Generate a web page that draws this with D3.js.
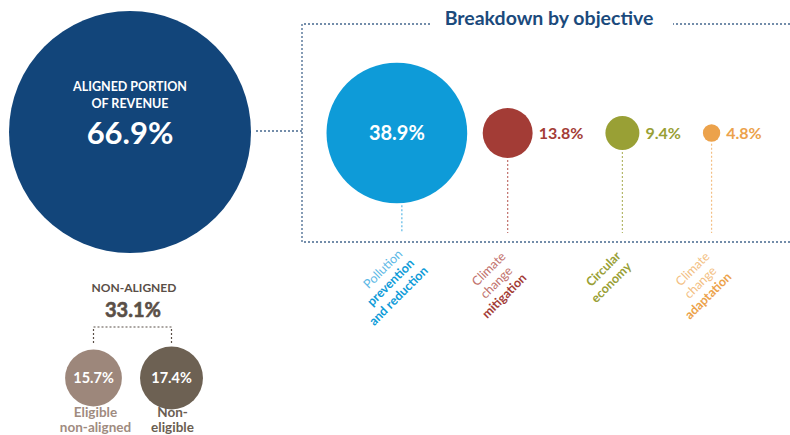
<!DOCTYPE html>
<html>
<head>
<meta charset="utf-8">
<script src="https://cdn.jsdelivr.net/npm/d3@7"></script>
<style>
  body { margin: 0; background: #fff; }
  svg { font-family: Lato, "Open Sans", sans-serif; }
</style>
</head>
<body>
<svg id="chart" width="790" height="435"></svg>
<script>
// data
const alignedLabel = ["ALIGNED PORTION", "OF REVENUE"];
const alignedValue = 66.9;
const nonAlignedLabel = "NON-ALIGNED";
const nonAlignedValue = 33.1;
const nonAlignedCats = ["Eligible\nnon-aligned", "Non-\neligible"];
const nonAlignedValues = [15.7, 17.4];
const objectives = ["Pollution prevention and reduction", "Climate change mitigation", "Circular economy", "Climate change adaptation"];
const objectiveLight = ["Pollution", "Climate\nchange", "", "Climate\nchange"];
const objectiveBold = ["prevention\nand reduction", "mitigation", "Circular\neconomy", "adaptation"];
const objectiveValues = [38.9, 13.8, 9.4, 4.8];
const objectiveColors = ["#0e9bd8", "#a33c36", "#99a035", "#eca24b"];
const objectiveLightColors = ["#5cb9e6", "#c1716c", "#b4b86a", "#f3bf84"];
const nonAlignedColors = ["#9d877b", "#6d6153"];
const nonAlignedTextColors = ["#a08b80", "#6b5e51"];

const svg = d3.select("#chart");
const navy = "#12457a";
const dotted = "#46688f";
const fmt = v => d3.format(".1f")(v) + "%";

// radius is proportional to value
const r = d3.scaleLinear().domain([0, alignedValue]).range([0, 121]);

// ---- aligned circle
const big = { x: 130, y: 132 };
svg.append("circle")
    .attr("cx", big.x).attr("cy", big.y).attr("r", r(alignedValue))
    .attr("fill", navy);

svg.selectAll(".alabel").data(alignedLabel).enter().append("text")
    .attr("x", big.x).attr("y", (d, i) => 91 + i * 17)
    .attr("text-anchor", "middle")
    .attr("fill", "#fff").attr("font-weight", 700).attr("font-size", 12.5)
    .text(d => d);

svg.append("text")
    .attr("x", big.x).attr("y", 144)
    .attr("text-anchor", "middle")
    .attr("fill", "#fff").attr("font-weight", 700).attr("font-size", 31)
    .text(fmt(alignedValue));

// ---- breakdown box
const box = { left: 302, top: 24, bottom: 242, right: 790 };
svg.append("path")
    .attr("d", `M${box.right},${box.top}H${box.left}V${box.bottom}H${box.right}`)
    .attr("fill", "none").attr("stroke", dotted).attr("stroke-width", 1.3)
    .attr("stroke-dasharray", "2,2");

svg.append("line")
    .attr("x1", big.x + r(alignedValue) + 5).attr("x2", box.left)
    .attr("y1", 131).attr("y2", 131)
    .attr("stroke", dotted).attr("stroke-width", 1.3).attr("stroke-dasharray", "2,2");

svg.append("rect")
    .attr("x", 431).attr("y", 14).attr("width", 242).attr("height", 20)
    .attr("fill", "#fff");
svg.append("text")
    .attr("x", 549).attr("y", 25)
    .attr("text-anchor", "middle")
    .attr("fill", "#1b4a7c").attr("font-weight", 700).attr("font-size", 19.5)
    .text("Breakdown by objective");

// ---- objective circles, laid out left to right
const cy = 133;
const stemBottom = 233;
const g = svg.append("g");
let cursor = 326.5;
objectives.forEach((name, i) => {
    const v = objectiveValues[i];
    const rad = r(v);
    const cx = cursor + rad;
    const inside = rad > 40;

    g.append("line")
        .attr("x1", cx + (inside ? 5 : 0)).attr("x2", cx + (inside ? 5 : 0))
        .attr("y1", cy + rad + 2).attr("y2", stemBottom)
        .attr("stroke", objectiveLightColors[i]).attr("stroke-width", 1.2)
        .attr("stroke-dasharray", "2,2");

    g.append("circle")
        .attr("cx", cx).attr("cy", cy).attr("r", rad)
        .attr("fill", objectiveColors[i]);

    let labelW = 0;
    if (inside) {
        g.append("text")
            .attr("x", cx).attr("y", cy + 7)
            .attr("text-anchor", "middle")
            .attr("fill", "#fff").attr("font-weight", 700).attr("font-size", 20)
            .text(fmt(v));
    } else {
        const t = g.append("text")
            .attr("x", cx + rad + 6).attr("y", cy + 5.5)
            .attr("fill", objectiveColors[i]).attr("font-weight", 700).attr("font-size", 16)
            .text(fmt(v));
        labelW = t.node().getComputedTextLength() + 6;
    }

    // rotated category label
    const lines = []
        .concat(objectiveLight[i] ? objectiveLight[i].split("\n").map(s => ({ s, bold: false })) : [])
        .concat(objectiveBold[i].split("\n").map(s => ({ s, bold: true })));
    const lg = g.append("g")
        .attr("transform", `translate(${cx + (inside ? 5 : 0) - 16},272) rotate(-45)`);
    lg.selectAll("text").data(lines).enter().append("text")
        .attr("x", (d, j) => -4 * j).attr("y", (d, j) => j * 15)
        .attr("text-anchor", "middle")
        .attr("font-size", 12.5)
        .attr("font-weight", d => d.bold ? 700 : 400)
        .attr("fill", d => d.bold ? objectiveColors[i] : objectiveLightColors[i])
        .text(d => d.s);

    cursor = cx + rad + labelW + (inside ? 15.5 : 22);
});

// ---- non-aligned
const brown = "#5a4f47";
svg.append("text")
    .attr("x", 134).attr("y", 291.5)
    .attr("text-anchor", "middle")
    .attr("fill", brown).attr("font-weight", 700).attr("font-size", 12)
    .text(nonAlignedLabel);
svg.append("text")
    .attr("x", 133).attr("y", 317)
    .attr("text-anchor", "middle")
    .attr("fill", brown).attr("font-weight", 700).attr("font-size", 20)
    .attr("stroke", brown).attr("stroke-width", 0.6)
    .text(fmt(nonAlignedValue));

const nx = d3.scalePoint().domain(nonAlignedCats).range([93.5, 171.5]);
const ny = 378;

svg.append("path")
    .attr("d", `M${nx(nonAlignedCats[0])},343V327H${nx(nonAlignedCats[1])}V343`)
    .attr("fill", "none").attr("stroke", brown).attr("stroke-width", 1.2)
    .attr("stroke-dasharray", "2,2");

const ng = svg.selectAll(".na").data(nonAlignedCats).enter().append("g");
ng.append("circle")
    .attr("cx", d => nx(d)).attr("cy", ny)
    .attr("r", (d, i) => r(nonAlignedValues[i]))
    .attr("fill", (d, i) => nonAlignedColors[i]);
ng.append("text")
    .attr("x", d => nx(d)).attr("y", ny + 5)
    .attr("text-anchor", "middle")
    .attr("fill", "#fff").attr("font-weight", 700).attr("font-size", 14.5)
    .text((d, i) => fmt(nonAlignedValues[i]));
ng.each(function(d, i) {
    d3.select(this).selectAll(".cl").data(d.split("\n")).enter().append("text")
        .attr("x", nx(d) + (i === 0 ? 2 : 1)).attr("y", (s, j) => 417 + j * 15)
        .attr("text-anchor", "middle")
        .attr("fill", nonAlignedTextColors[i]).attr("font-weight", 700).attr("font-size", 13.5)
        .text(s => s);
});
</script>
</body>
</html>
